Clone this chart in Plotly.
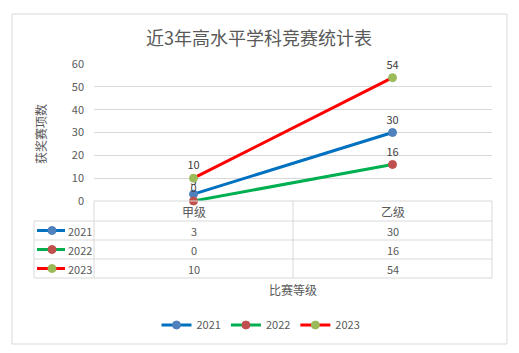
import plotly.graph_objects as go

categories = ["甲级", "乙级"]
series_names = ["2021", "2022", "2023"]
values_2021 = [3, 30]
values_2022 = [0, 16]
values_2023 = [10, 54]
series_values = [values_2021, values_2022, values_2023]
line_colors = ["#0070C0", "#00B050", "#FF0000"]
marker_colors = ["#4F81BD", "#C0504D", "#9BBB59"]
y_ticks = [0, 10, 20, 30, 40, 50, 60]

title_text = "近3年高水平学科竞赛统计表"
y_title = "获奖赛项数"
x_title = "比赛等级"

W, H = 519, 353
L, R, T, B = 94, 27, 64, 152
PW = W - L - R
PH = H - T - B
FONT = "Noto Sans CJK SC"
GRID = "#D9D9D9"
TXT = "#595959"


def px(xp):
    return (xp - L) / PW


def py(yp):
    return (H - B - yp) / PH


fig = go.Figure()
for name, vals, lc, mc in zip(series_names, series_values, line_colors, marker_colors):
    fig.add_trace(go.Scatter(
        x=categories, y=vals, name=name,
        mode="lines+markers+text",
        text=[str(v) for v in vals],
        textposition="top center",
        textfont=dict(family=FONT, size=11, color="#404040"),
        line=dict(color=lc, width=3),
        marker=dict(color=mc, size=8, line=dict(color=mc, width=1)),
        cliponaxis=False,
    ))

shapes = []
# outer chart border
shapes.append(dict(type="rect", xref="paper", yref="paper",
                   x0=px(12), x1=px(507), y0=py(14), y1=py(344),
                   line=dict(color=GRID, width=1)))

# table geometry (pixels)
tbl_left, tbl_col1, tbl_mid, tbl_right = 34, 94, 293, 492
row_edges = [201, 221, 240, 259, 278]

def hline(y, x0, x1):
    shapes.append(dict(type="line", xref="paper", yref="paper",
                       x0=px(x0), x1=px(x1), y0=py(y), y1=py(y),
                       line=dict(color=GRID, width=1)))

def vline(x, y0, y1):
    shapes.append(dict(type="line", xref="paper", yref="paper",
                       x0=px(x), x1=px(x), y0=py(y0), y1=py(y1),
                       line=dict(color=GRID, width=1)))

hline(row_edges[0], tbl_col1, tbl_right)
for y in row_edges[1:]:
    hline(y, tbl_left, tbl_right)
vline(tbl_left, row_edges[1], row_edges[-1])
for x in (tbl_col1, tbl_mid, tbl_right):
    vline(x, row_edges[0], row_edges[-1])

annotations = []
# header row
hc = (row_edges[0] + row_edges[1]) / 2
for c in categories:
    annotations.append(dict(x=c, xref="x", y=py(hc), yref="paper", text=c,
                            showarrow=False, xanchor="center", yanchor="middle",
                            font=dict(family=FONT, size=12, color=TXT)))
# data rows
for i, (name, vals, lc, mc) in enumerate(zip(series_names, series_values, line_colors, marker_colors)):
    rc = (row_edges[i + 1] + row_edges[i + 2]) / 2
    shapes.append(dict(type="line", xref="paper", yref="paper",
                       x0=px(37), x1=px(65), y0=py(rc), y1=py(rc),
                       line=dict(color=lc, width=3)))
    shapes.append(dict(type="circle", xref="paper", yref="paper",
                       x0=px(48), x1=px(56), y0=py(rc + 4), y1=py(rc - 4),
                       fillcolor=mc, line=dict(color=mc, width=1)))
    annotations.append(dict(x=px(66), xref="paper", y=py(rc), yref="paper", text=name,
                            showarrow=False, xanchor="left", yanchor="middle",
                            font=dict(family=FONT, size=11, color=TXT)))
    for c, v in zip(categories, vals):
        annotations.append(dict(x=c, xref="x", y=py(rc), yref="paper", text=str(v),
                                showarrow=False, xanchor="center", yanchor="middle",
                                font=dict(family=FONT, size=11, color=TXT)))

# titles
annotations.append(dict(x=px(259), xref="paper", y=py(37), yref="paper", text=title_text,
                        showarrow=False, xanchor="center", yanchor="middle",
                        font=dict(family=FONT, size=18, color=TXT)))
annotations.append(dict(x=px(40), xref="paper", y=py(134), yref="paper", text=y_title,
                        showarrow=False, xanchor="center", yanchor="middle", textangle=-90,
                        font=dict(family=FONT, size=12, color=TXT)))
annotations.append(dict(x=px(293), xref="paper", y=py(289), yref="paper", text=x_title,
                        showarrow=False, xanchor="center", yanchor="middle",
                        font=dict(family=FONT, size=12, color=TXT)))

fig.update_layout(
    width=W, height=H,
    margin=dict(l=L, r=R, t=T, b=B, pad=0),
    paper_bgcolor="white", plot_bgcolor="white",
    font=dict(family=FONT, size=11, color=TXT),
    showlegend=True,
    legend=dict(orientation="h", x=px(261), xanchor="center", y=py(325), yanchor="middle",
                font=dict(family=FONT, size=11, color=TXT), itemwidth=30,
                bgcolor="rgba(0,0,0,0)"),
    xaxis=dict(type="category", range=[-0.5, 1.5], showticklabels=False, showgrid=False,
               zeroline=False, showline=False, ticks=""),
    yaxis=dict(range=[0, 60], tickvals=y_ticks, showgrid=True, gridcolor=GRID, gridwidth=1,
               zeroline=False, showline=False, ticks="", ticklabelstandoff=9,
               tickfont=dict(family=FONT, size=11, color=TXT)),
    shapes=shapes,
    annotations=annotations,
)

fig.write_html("out.html")
